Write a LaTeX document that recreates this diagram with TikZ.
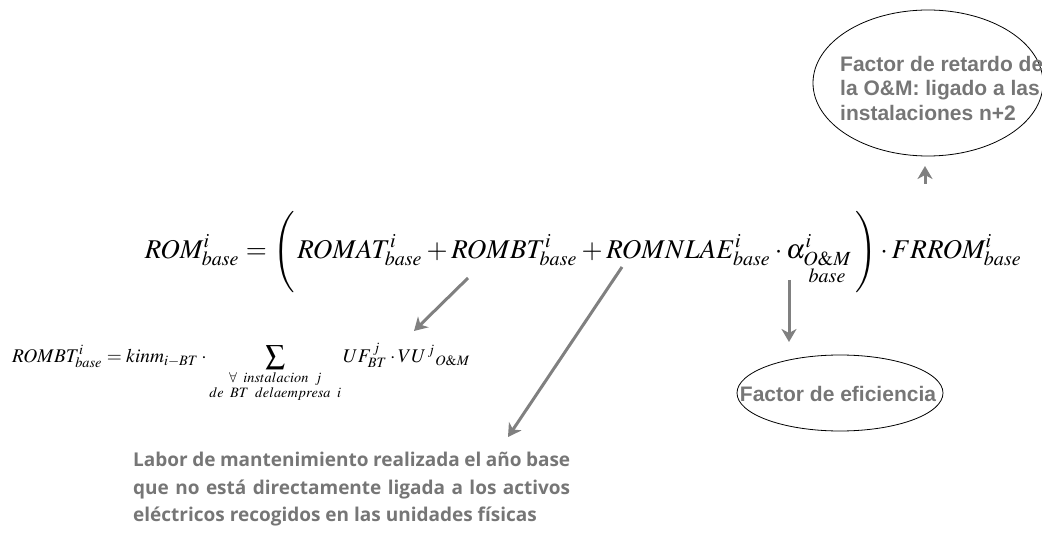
\documentclass[tikz,border=0pt]{standalone}
\usepackage{amsmath}
\usepackage{mathptmx}
\usepackage[no-math]{fontspec}
\newfontfamily\arialfont{Liberation Sans}
\newfontfamily\opensansfont{Open Sans}
\usetikzlibrary{arrows.meta}
\definecolor{txtgray}{RGB}{118,118,118}
\definecolor{arrgray}{RGB}{128,128,128}
\tikzset{
  garrow/.style={draw=arrgray, line width=3pt, -{Stealth[length=13pt,width=15pt,inset=4pt]}},
  lbl/.style={text=txtgray, font=\arialfont\bfseries\fontsize{21}{24.5}\selectfont, align=left, inner sep=0pt}
}
\begin{document}
\begin{tikzpicture}[x=1pt,y=1pt]
\useasboundingbox (0,0) rectangle (1042,-540);
% main equation
\node[inner sep=0pt, anchor=center] (eq) at (583.5,-252) {\resizebox{877pt}{!}{$\displaystyle ROM^{i}_{base} = \Biggl(\, ROMAT^{i}_{base} + ROMBT^{i}_{base} + ROMNLAE^{i}_{base} \cdot \alpha^{i}_{\substack{O\&M\\ base}} \,\Biggr) \cdot FRROM^{i}_{base}$}};
% second equation
\node[inner sep=0pt, anchor=north west] (eq2) at (12,-343) {\resizebox{458pt}{!}{$\displaystyle ROMBT^{i}_{base} = kinm_{i-BT} \cdot \sum_{\substack{\forall\ instalacion\ j\\ de\ BT\ delaempresa\ i}} UF^{\,j}_{BT}\cdot VU^{\,j}{}_{O\&M}$}};
% ellipses
\draw[line width=0.8pt] (928,-83) ellipse [x radius=115, y radius=73];
\node[lbl, anchor=north west] (retardo) at (840,-56) {Factor de retardo de\\la O\&M: ligado a las\\instalaciones n+2};
\draw[line width=0.8pt] (840,-393) ellipse [x radius=103, y radius=38];
\node[lbl, anchor=center] (efic) at (838,-394) {Factor de eficiencia};
% bottom text
\node[inner sep=0pt, anchor=north west, text=txtgray, text width=437pt, align=justify,
  font=\opensansfont\bfseries\fontsize{19}{27.5}\selectfont] (labor) at (133,-452)
  {Labor de mantenimiento realizada el año base que no está directamente ligada a los activos eléctricos recogidos en las unidades físicas};
% connector points
\coordinate (a1s) at (468,-278);
\coordinate (a1e) at (414,-331);
\coordinate (a2s) at (622,-267);
\coordinate (a2e) at (508,-437);
\coordinate (a3s) at (789,-280);
\coordinate (a3e) at (789,-342);
\coordinate (a4s) at (925,-184);
\coordinate (a4e) at (925,-166);
\draw[garrow] (a1s) -- (a1e);
\draw[garrow] (a2s) -- (a2e);
\draw[garrow] (a3s) -- (a3e);
\draw[garrow] (a4s) -- (a4e);
\end{tikzpicture}
\end{document}
